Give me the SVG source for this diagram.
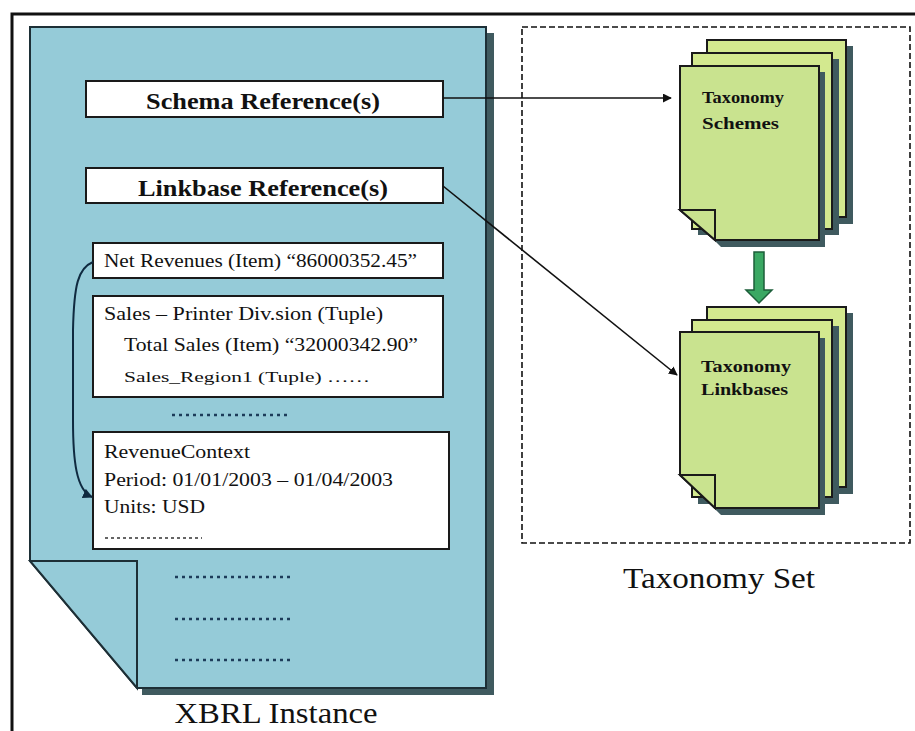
<svg xmlns="http://www.w3.org/2000/svg" width="915" height="731" viewBox="0 0 915 731">
  <style>
    text { font-family: "Liberation Serif", "Times New Roman", "DejaVu Serif", "Noto Serif", serif; fill: #111; }
    .box { fill: #ffffff; stroke: #1a1a1a; stroke-width: 2; }
    .page-blue { fill: #95cbd8; stroke: #1d2f36; stroke-width: 2; }
    .shadow { fill: #3f5a5f; }
    .page-green { fill: #c9e38f; stroke: #1a1a1a; stroke-width: 2; }
    .page-back { fill: #d3e98f; stroke: #1a1a1a; stroke-width: 2; }
    .dots { stroke: #1d3c5a; stroke-width: 2.5; stroke-dasharray: 3 4; fill: none; }
    .conn { stroke: #111; stroke-width: 1.6; fill: none; }
  </style>
  <defs>
    <marker id="arrow" viewBox="0 0 10 10" refX="9" refY="5" markerWidth="9" markerHeight="9" markerUnits="userSpaceOnUse" orient="auto">
      <path d="M0,0 L10,5 L0,10 z" fill="#111"/>
    </marker>
    <marker id="arrow-curve" viewBox="0 0 10 10" refX="9" refY="5" markerWidth="10" markerHeight="10" markerUnits="userSpaceOnUse" orient="auto">
      <path d="M0,0 L10,5 L0,10 z" fill="#0f2a40"/>
    </marker>
  </defs>

  <rect x="0" y="0" width="915" height="731" fill="#ffffff"/>

  <!-- outer frame -->
  <g id="frame">
    <path d="M12,731 L12,14 L915,14" fill="none" stroke="#111" stroke-width="3"/>
  </g>

  <!-- XBRL instance document -->
  <g id="xbrl-instance">
    <polygon class="shadow" points="487,33 494,33 494,695 142,695 142,688 487,688"/>
    <polygon class="page-blue" points="30,27 486,27 486,688 137,688 30,561"/>
    <polygon class="page-blue" points="30,561 137,561 137,688"/>
    <text font-family="Liberation Serif, serif" x="276" y="723" font-size="30" text-anchor="middle" textLength="203" lengthAdjust="spacingAndGlyphs">XBRL Instance</text>
  </g>

  <g id="schema-ref">
    <rect class="box" x="86" y="81" width="357" height="36"/>
    <text x="263" y="109" font-size="24" font-weight="bold" text-anchor="middle" textLength="234" lengthAdjust="spacingAndGlyphs">Schema Reference(s)</text>
  </g>

  <g id="linkbase-ref">
    <rect class="box" x="86" y="168" width="357" height="35"/>
    <text x="263" y="196" font-size="24" font-weight="bold" text-anchor="middle" textLength="250" lengthAdjust="spacingAndGlyphs">Linkbase Reference(s)</text>
  </g>

  <g id="net-revenues">
    <rect class="box" x="93" y="243" width="350" height="35"/>
    <text x="104" y="267" font-size="18" textLength="313" lengthAdjust="spacingAndGlyphs">Net Revenues (Item) “86000352.45”</text>
  </g>

  <g id="sales-tuple">
    <rect class="box" x="93" y="296" width="350" height="101"/>
    <text x="104" y="320" font-size="18" textLength="279" lengthAdjust="spacingAndGlyphs">Sales – Printer Div.sion (Tuple)</text>
    <text x="124" y="351" font-size="18" textLength="294" lengthAdjust="spacingAndGlyphs">Total Sales (Item) “32000342.90”</text>
    <text x="124" y="382" font-size="15" textLength="246" lengthAdjust="spacingAndGlyphs">Sales_Region1 (Tuple) ……</text>
  </g>

  <g id="revenue-context">
    <rect class="box" x="93" y="432" width="356" height="117"/>
    <text x="104" y="458" font-size="18" textLength="146" lengthAdjust="spacingAndGlyphs">RevenueContext</text>
    <text x="104" y="486" font-size="18" textLength="289" lengthAdjust="spacingAndGlyphs">Period: 01/01/2003 – 01/04/2003</text>
    <text x="104" y="513" font-size="18" textLength="101" lengthAdjust="spacingAndGlyphs">Units: USD</text>
    <line x1="105" y1="538" x2="202" y2="538" stroke="#333" stroke-width="1.5" stroke-dasharray="3 3"/>
  </g>

  <!-- ellipsis rows inside the instance -->
  <g id="ellipses">
    <line class="dots" x1="172" y1="415" x2="290" y2="415"/>
    <line class="dots" x1="175" y1="577" x2="290" y2="577"/>
    <line class="dots" x1="175" y1="619" x2="290" y2="619"/>
    <line class="dots" x1="175" y1="660" x2="290" y2="660"/>
  </g>

  <!-- taxonomy set -->
  <g id="taxonomy-set">
    <rect x="522" y="27" width="388" height="516" fill="none" stroke="#111" stroke-width="1.6" stroke-dasharray="6 3"/>
    <text x="719" y="588" font-size="30" text-anchor="middle" textLength="192" lengthAdjust="spacingAndGlyphs">Taxonomy Set</text>
  </g>

  <g id="taxonomy-schemes">
    <rect class="shadow" x="713" y="46" width="140" height="178"/>
    <rect class="page-back" x="707" y="40" width="139" height="177"/>
    <rect class="shadow" x="698" y="59" width="141" height="176"/>
    <rect class="page-back" x="692" y="53" width="140" height="176"/>
    <polygon class="shadow" points="686,72 825,72 825,247 721,247 686,212"/>
    <polygon class="page-green" points="680,66 819,66 819,240 715,240 680,210"/>
    <polygon class="page-green" points="680,210 715,210 715,240"/>
    <text x="702" y="103" font-size="16" font-weight="bold" textLength="82" lengthAdjust="spacingAndGlyphs">Taxonomy</text>
    <text x="702" y="129" font-size="16" font-weight="bold" textLength="77" lengthAdjust="spacingAndGlyphs">Schemes</text>
  </g>

  <g id="taxonomy-linkbases">
    <rect class="shadow" x="713" y="313" width="140" height="181"/>
    <rect class="page-back" x="707" y="307" width="139" height="180"/>
    <rect class="shadow" x="698" y="326" width="141" height="178"/>
    <rect class="page-back" x="692" y="320" width="140" height="177"/>
    <polygon class="shadow" points="686,338 825,338 825,515 721,515 686,481"/>
    <polygon class="page-green" points="680,332 819,332 819,508 715,508 680,475"/>
    <polygon class="page-green" points="680,475 715,475 715,508"/>
    <text x="701" y="372" font-size="16" font-weight="bold" textLength="90" lengthAdjust="spacingAndGlyphs">Taxonomy</text>
    <text x="701" y="395" font-size="16" font-weight="bold" textLength="87" lengthAdjust="spacingAndGlyphs">Linkbases</text>
  </g>

  <!-- connectors -->
  <g id="connectors">
    <line class="conn" x1="443" y1="98" x2="671" y2="98" marker-end="url(#arrow)"/>
    <line class="conn" x1="443" y1="186" x2="677" y2="375" marker-end="url(#arrow)"/>
    <path d="M93,262 C78,268 74,285 73,330 L73,420 C73,460 76,490 92,497" fill="none" stroke="#0f2a40" stroke-width="2" marker-end="url(#arrow-curve)"/>
    <polygon points="754,252 764,252 764,290 772,290 759,303 746,290 754,290" fill="#3aa863" stroke="#1c5e3a" stroke-width="1.5"/>
  </g>
</svg>
